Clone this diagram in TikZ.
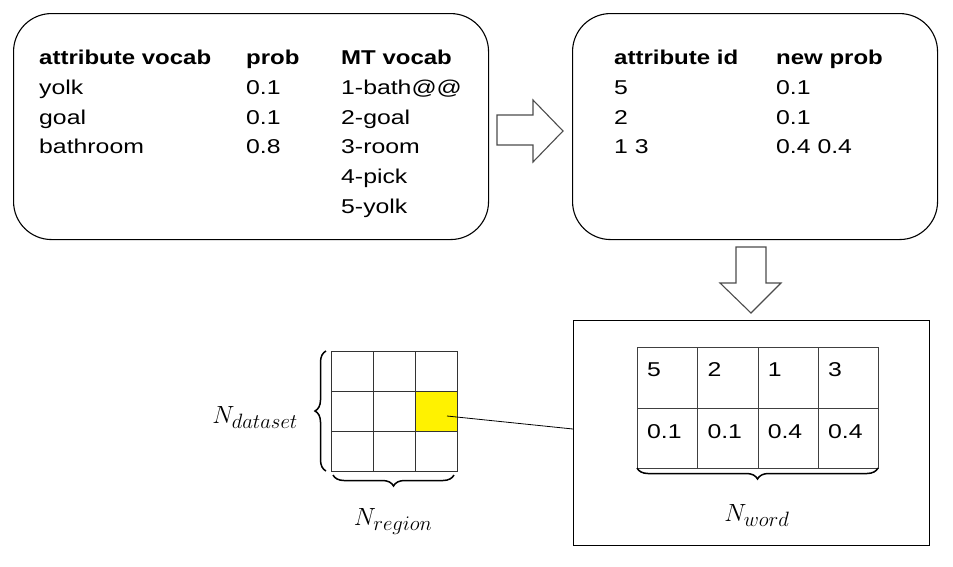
\documentclass[tikz,border=0pt]{standalone}
\usepackage{fontspec}
\setmainfont{Liberation Sans}[FakeStretch=1.24,BoldFeatures={FakeStretch=1.2}]
\DeclareMathSizes{24}{24}{20}{15}
\usetikzlibrary{decorations.pathreplacing}
\begin{document}
\begin{tikzpicture}[x=1pt,y=-1pt,
  txt/.style={anchor=base west,inner sep=0pt,font=\fontsize{20}{22}\selectfont},
  hdr/.style={txt,font=\fontsize{20}{22}\selectfont\bfseries},
  tcell/.style={draw=black!75,line width=1.1pt,minimum width=60.3pt,minimum height=60.5pt,inner sep=0pt,anchor=north west},
  gcell/.style={draw=black!80,line width=1.1pt,minimum width=42pt,minimum height=40pt,inner sep=0pt,anchor=north west},
  big/.style={draw=black,line width=1.1pt},
  blk/.style={draw=black!70,line width=1.1pt,fill=white},
  brc/.style={draw=black,line width=1.5pt,decorate,decoration={brace,amplitude=11pt}},
  mlab/.style={inner sep=0pt,font=\fontsize{24}{28}\selectfont}
]
\useasboundingbox (0,0) rectangle (953,566);
% top boxes
\node[big,rounded corners=38pt,minimum width=475pt,minimum height=226pt,anchor=north west,inner sep=0pt] (box1) at (13,13) {};
\node[big,rounded corners=38pt,minimum width=365pt,minimum height=226pt,anchor=north west,inner sep=0pt] (box2) at (572,13) {};
% box1 text
\node[hdr] (h1) at (39,64) {attribute vocab};
\node[hdr] (h2) at (246,64) {prob};
\node[hdr] (h3) at (341,64) {MT vocab};
\node[txt] (a1) at (39,94) {yolk};
\node[txt] (a2) at (39,124) {goal};
\node[txt] (a3) at (39,153) {bathroom};
\node[txt] (p1) at (246,94) {0.1};
\node[txt] (p2) at (246,124) {0.1};
\node[txt] (p3) at (246,153) {0.8};
\node[txt] (m1) at (341,94) {1-bath@@};
\node[txt] (m2) at (341,124) {2-goal};
\node[txt] (m3) at (341,153) {3-room};
\node[txt] (m4) at (341,183) {4-pick};
\node[txt] (m5) at (341,213) {5-yolk};
% box2 text
\node[hdr] (g1) at (614,64) {attribute id};
\node[hdr] (g2) at (776,64) {new prob};
\node[txt] (i1) at (614,94) {5};
\node[txt] (i2) at (614,124) {2};
\node[txt] (i3) at (614,153) {1 3};
\node[txt] (n1) at (776,94) {0.1};
\node[txt] (n2) at (776,124) {0.1};
\node[txt] (n3) at (776,153) {0.4 0.4};
% block arrows
\draw[blk] (497,115) -- (533,115) -- (533,100) -- (563,131) -- (533,162) -- (533,145) -- (497,145) -- cycle;
\draw[blk] (736,247) -- (766,247) -- (766,283) -- (781,283) -- (751,313) -- (720,283) -- (736,283) -- cycle;
% box3
\node[big,minimum width=356pt,minimum height=225pt,anchor=north west,inner sep=0pt] (box3) at (573,320) {};
% grid
\foreach \r/\y in {1/351,2/391,3/431}{
  \foreach \c/\x in {1/331,2/373,3/415}{
    \ifnum\r\c=23\relax
      \node[gcell,fill=yellow] (yc) at (\x,\y) {};
    \else
      \node[gcell] (g\r\c) at (\x,\y) {};
    \fi
  }
}
% table
\foreach \c/\x/\t/\v in {1/637/5/0.1,2/697.3/2/0.1,3/757.6/1/0.4,4/817.9/3/0.4}{
  \node[tcell] (t1\c) at (\x,347) {};
  \node[tcell] (t2\c) at (\x,407.5) {};
  \node[txt] at (\x+10,376) {\t};
  \node[txt] at (\x+10,438) {\v};
}
% connector
\coordinate (ls) at (447,416);
\coordinate (le) at (573,429);
\draw[line width=0.8pt] (ls) -- (le);
% braces
\draw[brc] (326,471) -- (326,351);
\draw[brc] (454,475) -- (333,475);
\draw[brc] (878,468) -- (637,468);
% labels
\node[mlab,anchor=base east] (nd) at (298,423) {$N_{dataset}$};
\node[mlab,anchor=base] (nr) at (393,525) {$N_{region}$};
\node[mlab,anchor=base] (nw) at (757,521) {$N_{word}$};
\end{tikzpicture}
\end{document}
